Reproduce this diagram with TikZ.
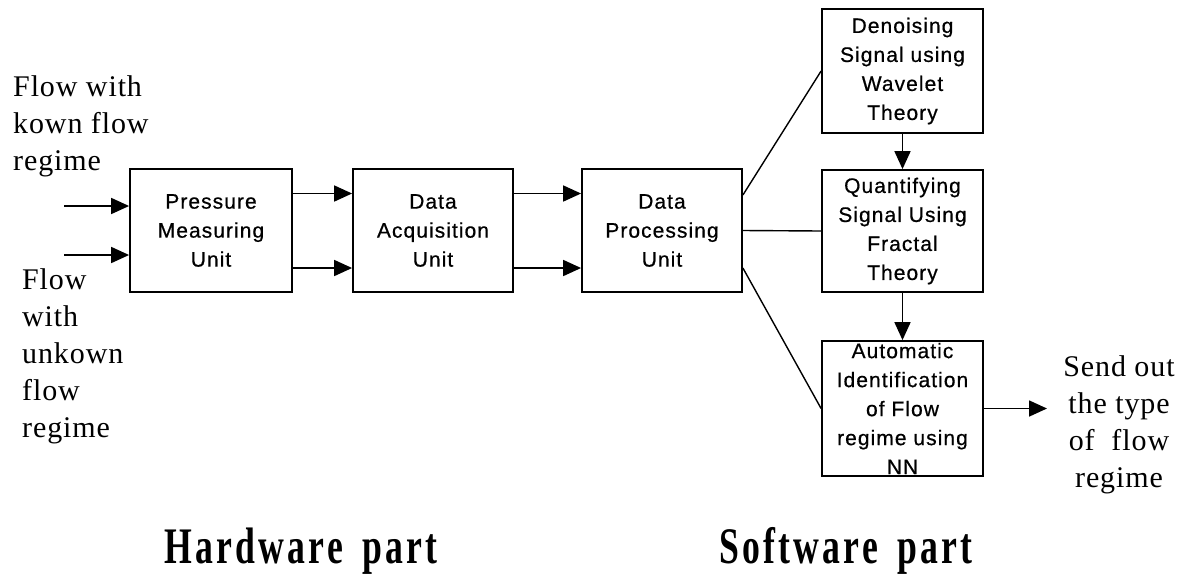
\documentclass[tikz,border=0pt]{standalone}
\usepackage{fontspec}
\setmainfont{Liberation Serif}
\newfontfamily\boxfont[LetterSpace=5,FakeBold=0.6]{Liberation Sans}
\newfontfamily\notefont[LetterSpace=3]{Liberation Serif}
\newfontfamily\partfont[LetterSpace=9]{Liberation Serif Bold}
\usetikzlibrary{arrows.meta}
\tikzset{
  unit/.style={draw, line width=1.8pt, inner sep=0pt, align=center,
    font=\boxfont\fontsize{21}{29}\selectfont},
  flow/.style={line width=1.7pt, -{Triangle[length=18pt,width=16pt]}},
  link/.style={line width=1.4pt},
  note/.style={inner sep=0pt, font=\notefont\fontsize{30}{37}\selectfont},
  part/.style={inner sep=0pt, font=\partfont\fontsize{42}{48}\selectfont}
}
\newcommand{\tallpart}[2]{\scalebox{0.85}[1.22]{#1\hspace{0.55em}#2}}
\begin{document}
\begin{tikzpicture}[x=1pt,y=-1pt]
\useasboundingbox (0,0) rectangle (1183,574);

% hardware chain
\node[unit, minimum width=162pt, minimum height=123pt] (pmu) at (211,230.5) {Pressure\\Measuring\\Unit};
\node[unit, minimum width=160pt, minimum height=123pt] (dau) at (433,230.5) {Data\\Acquisition\\Unit};
\node[unit, minimum width=160pt, minimum height=123pt] (dpu) at (662,230.5) {Data\\Processing\\Unit};

% software chain
\node[unit, minimum width=161pt, minimum height=124pt] (den) at (902.5,71) {Denoising\\Signal using\\Wavelet\\Theory};
\node[unit, minimum width=161pt, minimum height=122pt] (qua) at (902.5,231) {Quantifying\\Signal Using\\Fractal\\Theory};
\node[unit, minimum width=161pt, minimum height=135pt] (aut) at (902.5,408.5) {Automatic\\Identification\\of Flow\\regime using\\NN};

% inputs
\draw[flow] ([xshift=-65pt,yshift=24.5pt]pmu.west) -- ([yshift=24.5pt]pmu.west);
\draw[flow] ([xshift=-65pt,yshift=-24.5pt]pmu.west) -- ([yshift=-24.5pt]pmu.west);

% hardware links
\draw[flow] ([yshift=37pt]pmu.east) -- ([yshift=37pt]dau.west);
\draw[flow] ([yshift=-37.5pt]pmu.east) -- ([yshift=-37.5pt]dau.west);
\draw[flow] ([yshift=37pt]dau.east) -- ([yshift=37pt]dpu.west);
\draw[flow] ([yshift=-37.5pt]dau.east) -- ([yshift=-37.5pt]dpu.west);

% processing fan-out
\draw[link] ([yshift=35.5pt]dpu.east) -- (den.west);
\draw[link] (dpu.east) -- (qua.west);
\draw[link] ([yshift=-37.5pt]dpu.east) -- (aut.west);

% software links
\draw[flow] (den.south) -- (qua.north);
\draw[flow] (qua.south) -- (aut.north);
\coordinate (out) at (1047,408.5);
\draw[flow] (aut.east) -- (out);

% labels
\node[note, anchor=base west, align=left] (known) at (13,170) {Flow with\\kown flow\\regime};
\node[note, anchor=base west, align=left] (unknown) at (22,437) {Flow\\with\\unkown\\flow\\regime};
\node[note, anchor=base, align=center] (send) at (1119,487) {Send out\\the type\\of~ flow\\regime};
\node[part, anchor=base] (hw) at (301,563) {\tallpart{Hardware}{part}};
\node[part, anchor=base] (sw) at (846,563) {\tallpart{Software}{part}};
\end{tikzpicture}
\end{document}
